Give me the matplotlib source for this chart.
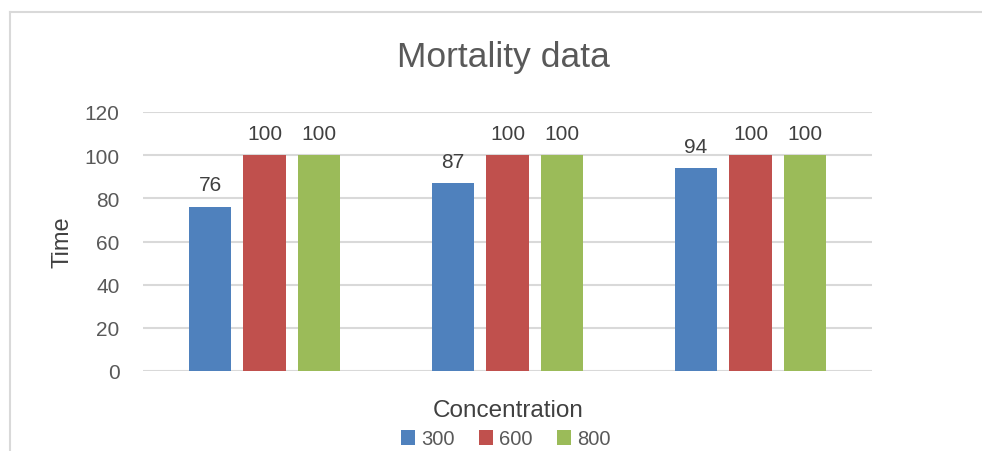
import matplotlib

matplotlib.use("Agg")
import matplotlib.pyplot as plt
import numpy as np
from matplotlib.lines import Line2D
from matplotlib.patches import Patch

# Data
groups = ["A", "B", "C"]
series_names = ["300", "600", "800"]
values_300 = [76, 87, 94]
values_600 = [100, 100, 100]
values_800 = [100, 100, 100]
y_ticks = [0, 20, 40, 60, 80, 100, 120]

COLORS = ["#4F81BD", "#C0504D", "#9BBB59"]
GRID = "#D9D9D9"
TEXT = "#595959"

plt.rcParams["font.family"] = ["Liberation Sans", "DejaVu Sans"]

fig = plt.figure(figsize=(9.82, 4.52), dpi=100)
ax = fig.add_axes([143 / 982, 1 - 372 / 452, 729 / 982, 259 / 452])

x = np.arange(len(groups))
width = 0.174
step = 0.224
all_series = [values_300, values_600, values_800]
for i, (vals, color) in enumerate(zip(all_series, COLORS)):
    bars = ax.bar(x + (i - 1) * step, vals, width=width, color=color, zorder=3)
    for bar, v in zip(bars, vals):
        ax.annotate(
            f"{v}",
            xy=(bar.get_x() + bar.get_width() / 2, bar.get_height()),
            xytext=(0, 9),
            textcoords="offset points",
            ha="center",
            va="bottom",
            fontsize=15,
            color="#404040",
        )

ax.set_xlim(-0.5, len(groups) - 0.5)
ax.set_ylim(0, 120)
ax.set_yticks(y_ticks)
ax.set_xticks([])
ax.tick_params(axis="y", length=0, pad=17, labelsize=15, labelcolor=TEXT)
ax.yaxis.grid(True, color=GRID, linewidth=1.5, zorder=0)
for s in ax.spines.values():
    s.set_visible(False)

ax.set_ylabel("Time", fontsize=17, color="#404040", labelpad=8)
fig.text(508 / 982, 1 - 411 / 452, "Concentration", ha="center", va="center",
         fontsize=17.5, color="#404040")
fig.text(503 / 982, 1 - 58 / 452, "Mortality data", ha="center", va="center",
         fontsize=25.5, color=TEXT)

handles = [Patch(facecolor=c, edgecolor="none") for c in COLORS]
fig.legend(handles, series_names, loc="center", bbox_to_anchor=(506 / 982, 1 - 440 / 452),
           ncol=3, frameon=False, fontsize=14.5, handlelength=0.7, handleheight=0.7,
           handletextpad=0.3, columnspacing=1.2, labelcolor=TEXT)

# Light chart border (top and left visible in the crop)
fig.add_artist(Line2D([10 / 982, 1.0], [1 - 13 / 452, 1 - 13 / 452],
                      transform=fig.transFigure, color=GRID, linewidth=1.5))
fig.add_artist(Line2D([10 / 982, 10 / 982], [1 - 13 / 452, 0.0],
                      transform=fig.transFigure, color=GRID, linewidth=1.5))

fig.savefig("out.png", dpi=100)
